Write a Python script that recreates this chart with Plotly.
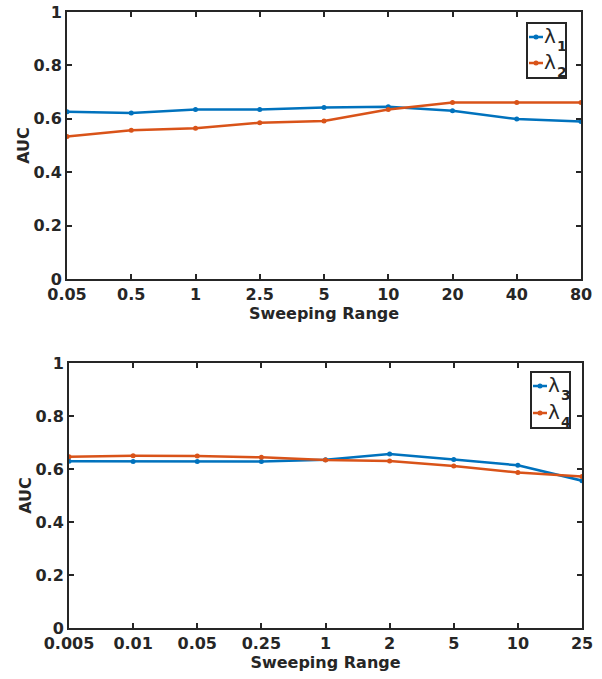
import plotly.graph_objects as go

# ---- data ----
x_top = ["0.05", "0.5", "1", "2.5", "5", "10", "20", "40", "80"]
lam1 = [0.626, 0.622, 0.635, 0.635, 0.642, 0.645, 0.630, 0.599, 0.590]
lam2 = [0.534, 0.557, 0.565, 0.585, 0.592, 0.635, 0.661, 0.661, 0.661]

x_bot = ["0.005", "0.01", "0.05", "0.25", "1", "2", "5", "10", "25"]
lam3 = [0.629, 0.628, 0.628, 0.628, 0.635, 0.657, 0.636, 0.614, 0.556]
lam4 = [0.646, 0.650, 0.649, 0.644, 0.634, 0.630, 0.611, 0.587, 0.572]

names_top = ["1", "2"]
names_bot = ["3", "4"]

BLUE = "#0072BD"
ORANGE = "#D95319"
INK = "#262626"
FONT = "DejaVu Sans"
W, H = 602, 679

fig = go.Figure()

def add(x, y, color, xa, ya):
    fig.add_trace(go.Scatter(
        x=x, y=y, mode="lines+markers", showlegend=False,
        line=dict(color=color, width=2.5),
        marker=dict(color=color, size=5),
        xaxis=xa, yaxis=ya))

add(x_top, lam1, BLUE, "x", "y")
add(x_top, lam2, ORANGE, "x", "y")
add(x_bot, lam3, BLUE, "x2", "y2")
add(x_bot, lam4, ORANGE, "x2", "y2")

titlefont = dict(family=FONT, size=16, color=INK)
tickfont = dict(family=FONT, size=16, color=INK, weight="bold")

def xax(domain, anchor, cats):
    return dict(domain=domain, anchor=anchor, type="category",
                categoryorder="array", categoryarray=cats,
                range=[0, len(cats) - 1], automargin=False,
                showline=True, linecolor=INK, linewidth=2, mirror="ticks",
                ticks="inside", ticklen=5, tickwidth=2, tickcolor=INK,
                showgrid=False, zeroline=False, tickfont=tickfont,
                title=dict(text="<b>Sweeping Range</b>", font=titlefont, standoff=0))

def yax(domain, anchor):
    return dict(domain=domain, anchor=anchor, range=[0, 1], dtick=0.2,
                automargin=False,
                showline=True, linecolor=INK, linewidth=2, mirror="ticks",
                ticks="inside", ticklen=5, tickwidth=2, tickcolor=INK,
                showgrid=False, zeroline=False, tickfont=tickfont,
                title=dict(text="<b>AUC</b>", font=titlefont, standoff=0))

# ---- custom legends (MATLAB-style compact boxes) ----
shapes = []
annotations = []

def px(x):
    return x / W

def py(y):
    return 1 - y / H

def legend(box, rows, labels):
    x0, y0, x1, y1 = box
    shapes.append(dict(type="rect", xref="paper", yref="paper",
                       x0=px(x0), x1=px(x1), y0=py(y0), y1=py(y1),
                       line=dict(color=INK, width=2), fillcolor="white", layer="above"))
    for (ly, color), lab in zip(zip(rows, [BLUE, ORANGE]), labels):
        shapes.append(dict(type="line", xref="paper", yref="paper",
                           x0=px(x0 + 2), x1=px(x0 + 16), y0=py(ly), y1=py(ly),
                           line=dict(color=color, width=2.5), layer="above"))
        cx = x0 + 9
        shapes.append(dict(type="circle", xref="paper", yref="paper",
                           x0=px(cx - 2.5), x1=px(cx + 2.5), y0=py(ly - 2.5), y1=py(ly + 2.5),
                           line=dict(color=color, width=0), fillcolor=color, layer="above"))
        annotations.append(dict(xref="paper", yref="paper", x=px(x0 + 15), y=py(ly - 1),
                                xanchor="left", yanchor="middle", showarrow=False,
                                text="λ", font=dict(family=FONT, size=20, color=INK)))
        annotations.append(dict(xref="paper", yref="paper", x=px(x0 + 28), y=py(ly + 9),
                                xanchor="left", yanchor="middle", showarrow=False,
                                text="<b>%s</b>" % lab,
                                font=dict(family=FONT, size=14, color=INK)))

legend((527, 23, 566, 78), [37, 63], names_top)
legend((531, 372, 570, 428), [386, 413], names_bot)

fig.update_layout(
    width=W, height=H,
    margin=dict(l=0, r=0, t=0, b=0),
    paper_bgcolor="white", plot_bgcolor="white",
    xaxis=xax([67 / W, 581 / W], "y", x_top),
    yaxis=yax([1 - 279 / H, 1 - 12 / H], "x"),
    xaxis2=xax([69 / W, 582 / W], "y2", x_bot),
    yaxis2=yax([1 - 628 / H, 1 - 363 / H], "x2"),
    shapes=shapes, annotations=annotations,
    showlegend=False,
)

fig.write_html("out.html")
